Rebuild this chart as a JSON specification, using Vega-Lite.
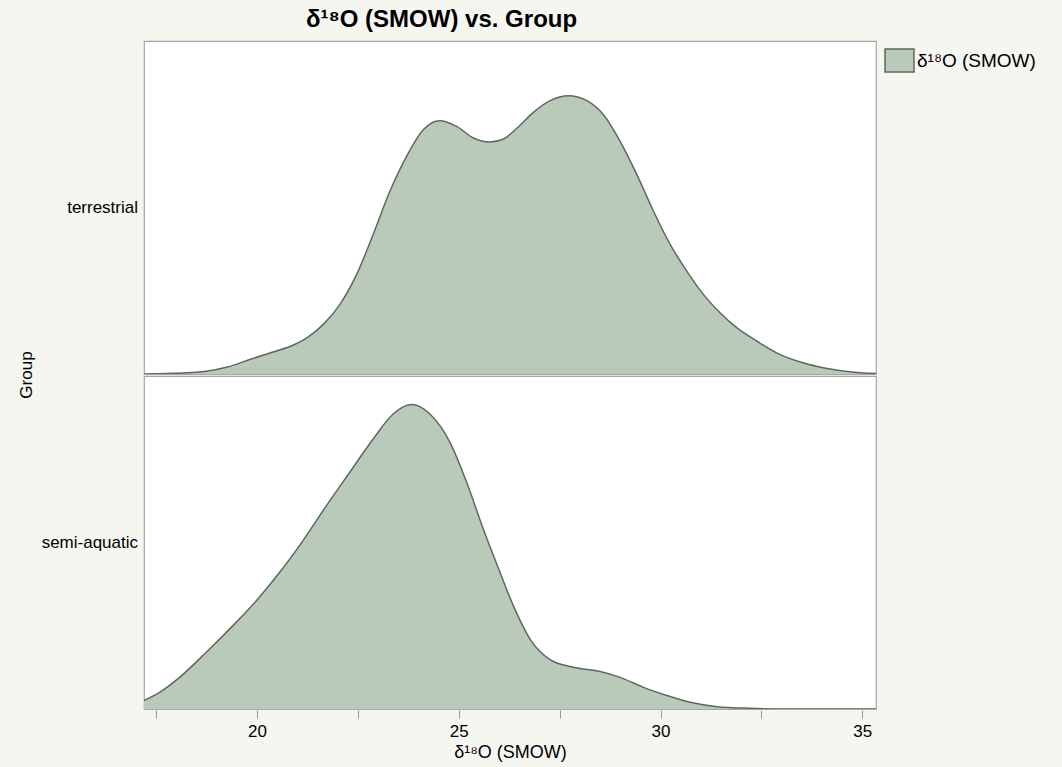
{
  "$schema": "https://vega.github.io/schema/vega-lite/v6.json",
  "background": "#f6f6f1",
  "padding": {"left": 18, "top": 8, "right": 20, "bottom": 7},
  "title": {
    "text": "δ¹⁸O (SMOW) vs. Group",
    "anchor": "middle",
    "dx": -89,
    "fontSize": 24,
    "font": "Liberation Sans",
    "fontWeight": "bold",
    "color": "#000000",
    "offset": 8
  },
  "data": {
    "values": [
      {"group": "terrestrial", "d18O": 17.196, "density": 0.0},
      {"group": "terrestrial", "d18O": 18.164, "density": 0.0007},
      {"group": "terrestrial", "d18O": 18.744, "density": 0.0019},
      {"group": "terrestrial", "d18O": 19.241, "density": 0.0048},
      {"group": "terrestrial", "d18O": 19.819, "density": 0.0104},
      {"group": "terrestrial", "d18O": 20.397, "density": 0.0159},
      {"group": "terrestrial", "d18O": 20.893, "density": 0.0207},
      {"group": "terrestrial", "d18O": 21.226, "density": 0.0259},
      {"group": "terrestrial", "d18O": 21.638, "density": 0.0356},
      {"group": "terrestrial", "d18O": 22.052, "density": 0.05},
      {"group": "terrestrial", "d18O": 22.467, "density": 0.0716},
      {"group": "terrestrial", "d18O": 22.878, "density": 0.1005},
      {"group": "terrestrial", "d18O": 23.293, "density": 0.1317},
      {"group": "terrestrial", "d18O": 23.707, "density": 0.1569},
      {"group": "terrestrial", "d18O": 24.119, "density": 0.1761},
      {"group": "terrestrial", "d18O": 24.534, "density": 0.1826},
      {"group": "terrestrial", "d18O": 24.948, "density": 0.1785},
      {"group": "terrestrial", "d18O": 25.36, "density": 0.1701},
      {"group": "terrestrial", "d18O": 25.774, "density": 0.1672},
      {"group": "terrestrial", "d18O": 26.11, "density": 0.1694},
      {"group": "terrestrial", "d18O": 26.44, "density": 0.1771},
      {"group": "terrestrial", "d18O": 26.85, "density": 0.1886},
      {"group": "terrestrial", "d18O": 27.263, "density": 0.197},
      {"group": "terrestrial", "d18O": 27.717, "density": 0.2006},
      {"group": "terrestrial", "d18O": 28.174, "density": 0.197},
      {"group": "terrestrial", "d18O": 28.586, "density": 0.1869},
      {"group": "terrestrial", "d18O": 29.0, "density": 0.1677},
      {"group": "terrestrial", "d18O": 29.414, "density": 0.1437},
      {"group": "terrestrial", "d18O": 29.826, "density": 0.1173},
      {"group": "terrestrial", "d18O": 30.241, "density": 0.0933},
      {"group": "terrestrial", "d18O": 30.655, "density": 0.074},
      {"group": "terrestrial", "d18O": 31.067, "density": 0.0572},
      {"group": "terrestrial", "d18O": 31.481, "density": 0.044},
      {"group": "terrestrial", "d18O": 31.896, "density": 0.0332},
      {"group": "terrestrial", "d18O": 32.392, "density": 0.0236},
      {"group": "terrestrial", "d18O": 32.888, "density": 0.0151},
      {"group": "terrestrial", "d18O": 33.467, "density": 0.0086},
      {"group": "terrestrial", "d18O": 34.129, "density": 0.0039},
      {"group": "terrestrial", "d18O": 34.789, "density": 0.0012},
      {"group": "terrestrial", "d18O": 35.34, "density": 0.0003},
      {"group": "semi-aquatic", "d18O": 17.196, "density": 0.0061},
      {"group": "semi-aquatic", "d18O": 17.586, "density": 0.012},
      {"group": "semi-aquatic", "d18O": 18.082, "density": 0.0228},
      {"group": "semi-aquatic", "d18O": 18.744, "density": 0.0409},
      {"group": "semi-aquatic", "d18O": 19.404, "density": 0.0601},
      {"group": "semi-aquatic", "d18O": 19.985, "density": 0.0781},
      {"group": "semi-aquatic", "d18O": 20.563, "density": 0.0985},
      {"group": "semi-aquatic", "d18O": 21.141, "density": 0.1214},
      {"group": "semi-aquatic", "d18O": 21.722, "density": 0.1466},
      {"group": "semi-aquatic", "d18O": 22.3, "density": 0.1706},
      {"group": "semi-aquatic", "d18O": 22.878, "density": 0.1946},
      {"group": "semi-aquatic", "d18O": 23.375, "density": 0.2126},
      {"group": "semi-aquatic", "d18O": 23.831, "density": 0.2194},
      {"group": "semi-aquatic", "d18O": 24.285, "density": 0.2126},
      {"group": "semi-aquatic", "d18O": 24.782, "density": 0.1922},
      {"group": "semi-aquatic", "d18O": 25.196, "density": 0.1634},
      {"group": "semi-aquatic", "d18O": 25.608, "density": 0.1297},
      {"group": "semi-aquatic", "d18O": 26.022, "density": 0.0985},
      {"group": "semi-aquatic", "d18O": 26.352, "density": 0.0745},
      {"group": "semi-aquatic", "d18O": 26.767, "density": 0.0504},
      {"group": "semi-aquatic", "d18O": 27.263, "density": 0.0356},
      {"group": "semi-aquatic", "d18O": 27.841, "density": 0.0301},
      {"group": "semi-aquatic", "d18O": 28.504, "density": 0.027},
      {"group": "semi-aquatic", "d18O": 29.0, "density": 0.0228},
      {"group": "semi-aquatic", "d18O": 29.578, "density": 0.0156},
      {"group": "semi-aquatic", "d18O": 30.159, "density": 0.0097},
      {"group": "semi-aquatic", "d18O": 30.737, "density": 0.0048},
      {"group": "semi-aquatic", "d18O": 31.4, "density": 0.0017},
      {"group": "semi-aquatic", "d18O": 32.226, "density": 0.0005},
      {"group": "semi-aquatic", "d18O": 33.045, "density": 0.0},
      {"group": "semi-aquatic", "d18O": 35.34, "density": 0.0}
    ]
  },
  "facet": {
    "row": {
      "field": "group",
      "type": "nominal",
      "sort": ["terrestrial", "semi-aquatic"],
      "title": "Group",
      "header": {
        "labelOrient": "left",
        "labelAngle": 0,
        "labelAlign": "left",
        "labelBaseline": "middle",
        "labelAnchor": "middle",
        "labelFont": "Liberation Sans",
        "labelFontSize": 17,
        "labelColor": "#000000",
        "labelPadding": 5,
        "titleOrient": "left",
        "titleAngle": -90,
        "titleFont": "Liberation Sans",
        "titleFontSize": 17,
        "titleFontWeight": "normal",
        "titleColor": "#000000",
        "titlePadding": -22
      }
    }
  },
  "spacing": {"row": 0},
  "spec": {
    "width": 732,
    "height": 333,
    "encoding": {
      "x": {
        "field": "d18O",
        "type": "quantitative",
        "title": "δ¹⁸O (SMOW)",
        "scale": {"domain": [17.2, 35.34], "nice": false, "zero": false},
        "axis": {
          "values": [17.5, 20, 22.5, 25, 27.5, 30, 32.5, 35],
          "labelExpr": "datum.value % 5 === 0 ? datum.label : ''",
          "grid": false,
          "domain": false,
          "tickColor": "#9a9a9a",
          "tickSize": 8,
          "labelFont": "Liberation Sans",
          "labelFontSize": 17,
          "labelColor": "#000000",
          "labelPadding": 5,
          "titleFont": "Liberation Sans",
          "titleFontSize": 18,
          "titleFontWeight": "normal",
          "titleColor": "#000000",
          "titlePadding": 4
        }
      },
      "y": {
        "field": "density",
        "type": "quantitative",
        "scale": {"domain": [0, 0.24], "nice": false},
        "axis": null
      }
    },
    "layer": [
      {
        "mark": {"type": "area", "interpolate": "monotone", "clip": true},
        "encoding": {
          "fill": {
            "datum": "δ¹⁸O (SMOW)",
            "type": "nominal",
            "scale": {"range": ["#b9cabb"]},
            "legend": {
              "title": null,
              "orient": "right",
              "offset": 3,
              "padding": 7,
              "symbolType": "M-1.26,-1H1.26V1H-1.26Z",
              "symbolSize": 529,
              "symbolStrokeColor": "#5e695e",
              "symbolStrokeWidth": 1.5,
              "symbolOpacity": 1,
              "labelFont": "Liberation Sans",
              "labelFontSize": 19,
              "labelColor": "#000000",
              "labelOffset": 5
            }
          }
        }
      },
      {
        "mark": {"type": "line", "interpolate": "monotone", "color": "#5e695e", "strokeWidth": 1.5, "clip": true},
        "encoding": {}
      }
    ]
  },
  "config": {
    "view": {"fill": "#ffffff", "stroke": "#a6a6a6", "strokeWidth": 1.2}
  }
}
